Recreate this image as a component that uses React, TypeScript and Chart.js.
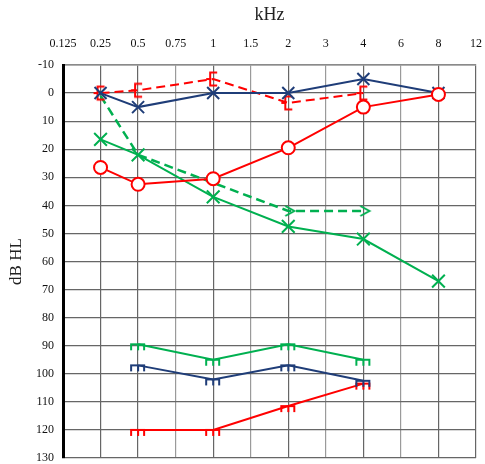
import React, { useEffect, useRef } from 'react';
import { Chart, registerables } from 'chart.js';

Chart.register(...registerables);

// ---------- data ----------
const freqLabels = ['0.125', '0.25', '0.5', '0.75', '1', '1.5', '2', '3', '4', '6', '8', '12'];
const octaveLabels = ['0.125', '0.25', '0.5', '1', '2', '4', '8', '12'];

const acFreqs = ['0.25', '0.5', '1', '2', '4', '8'];
const redCircle = [26.5, 32.5, 30.5, 19.5, 5, 0.5];
const blueCross = [0, 5, 0, 0, -5, 0];
const greenCross = [16.5, 22, 37, 47.5, 52, 67];

const bcFreqs = ['0.25', '0.5', '1', '2', '4'];
const redBracket = [0, -1, -5, 3.5, 0];

const greenDashFreqs = ['0.25', '0.5', '2', '4'];
const greenDash = [1, 22, 42, 42];

const uclFreqs = ['0.5', '1', '2', '4'];
const greenUcl = [89.5, 95, 89.5, 95];
const blueUcl = [97, 102, 97, 102.5];
const redUcl = [120, 120, 111.5, 103.5];

const RED = '#ff0000';
const BLUE = '#1f3d78';
const GREEN = '#00b050';
const FONT = '"Liberation Serif", "Times New Roman", serif';

const pts = (freqs: string[], vals: number[]) =>
  freqs.map((f, i) => ({ x: freqLabels.indexOf(f), y: vals[i] }));

function makeCanvas(w: number, h: number, draw: (c: CanvasRenderingContext2D) => void) {
  const c = document.createElement('canvas');
  c.width = w;
  c.height = h;
  const ctx = c.getContext('2d')!;
  draw(ctx);
  return c;
}

function bracket(color: string) {
  return makeCanvas(20, 20, (ctx) => {
    ctx.strokeStyle = color;
    ctx.lineWidth = 2;
    ctx.beginPath();
    ctx.moveTo(14, 3.5);
    ctx.lineTo(7, 3.5);
    ctx.lineTo(7, 16.5);
    ctx.lineTo(14, 16.5);
    ctx.moveTo(3, 10);
    ctx.lineTo(7, 10);
    ctx.stroke();
  });
}

function arrow(color: string) {
  return makeCanvas(22, 16, (ctx) => {
    ctx.strokeStyle = color;
    ctx.lineWidth = 2;
    ctx.beginPath();
    ctx.moveTo(8, 3);
    ctx.lineTo(17, 8);
    ctx.lineTo(8, 13);
    ctx.stroke();
  });
}

function ucl(color: string) {
  return makeCanvas(22, 20, (ctx) => {
    ctx.strokeStyle = color;
    ctx.lineWidth = 2;
    ctx.beginPath();
    ctx.moveTo(3, 10);
    ctx.lineTo(18, 10);
    ctx.moveTo(4, 10);
    ctx.lineTo(4, 16);
    ctx.moveTo(11, 10);
    ctx.lineTo(11, 16);
    ctx.moveTo(17, 10);
    ctx.lineTo(17, 16);
    ctx.stroke();
  });
}

export default function App() {
  const ref = useRef<HTMLCanvasElement>(null);

  useEffect(() => {
    document.body.style.margin = '0';
    const cv = ref.current!;
    const arrowG = arrow(GREEN);
    const chart = new Chart(cv, {
      type: 'line',
      data: {
        datasets: [
          {
            data: pts(acFreqs, redCircle),
            borderColor: RED,
            backgroundColor: '#ffffff',
            borderWidth: 2,
            pointStyle: 'circle',
            pointRadius: 6.5,
            pointBorderWidth: 2,
            pointBackgroundColor: '#ffffff',
            order: 0,
          },
          {
            data: pts(acFreqs, blueCross),
            borderColor: BLUE,
            borderWidth: 2,
            pointStyle: 'crossRot',
            pointRadius: 8.5,
            pointBorderWidth: 2,
            order: 1,
          },
          {
            data: pts(bcFreqs, redBracket),
            borderColor: RED,
            borderWidth: 2,
            borderDash: [9, 5],
            pointStyle: bracket(RED),
            pointRadius: 8,
            order: 2,
          },
          {
            data: pts(acFreqs, greenCross),
            borderColor: GREEN,
            borderWidth: 2,
            pointStyle: 'crossRot',
            pointRadius: 9,
            pointBorderWidth: 2,
            order: 3,
          },
          {
            data: pts(greenDashFreqs, greenDash),
            borderColor: GREEN,
            borderWidth: 2.5,
            borderDash: [9, 5],
            pointStyle: ['circle', 'circle', arrowG, arrowG] as any,
            pointRadius: [0, 0, 8, 8],
            order: 4,
          },
          {
            data: pts(uclFreqs, greenUcl),
            borderColor: GREEN,
            borderWidth: 2,
            pointStyle: ucl(GREEN),
            pointRadius: 8,
            order: 5,
          },
          {
            data: pts(uclFreqs, blueUcl),
            borderColor: BLUE,
            borderWidth: 2,
            pointStyle: ucl(BLUE),
            pointRadius: 8,
            order: 6,
          },
          {
            data: pts(uclFreqs, redUcl),
            borderColor: RED,
            borderWidth: 2,
            pointStyle: ucl(RED),
            pointRadius: 8,
            order: 7,
          },
        ] as any,
      },
      options: {
        animation: false,
        responsive: false,
        devicePixelRatio: 1,
        layout: { autoPadding: false, padding: { left: 0, right: 9, top: 0, bottom: 6 } },
        elements: { line: { tension: 0, fill: false } },
        plugins: { legend: { display: false }, tooltip: { enabled: false } },
        scales: {
          x: {
            type: 'linear',
            position: 'top',
            min: 0,
            max: 11,
            ticks: {
              stepSize: 1,
              autoSkip: false,
              maxRotation: 0,
              padding: 14,
              color: '#111',
              font: { family: FONT, size: 12 },
              callback: (v: any) => freqLabels[v as number] ?? '',
            },
            grid: {
              drawTicks: false,
              lineWidth: 1.2,
              color: (c: any) =>
                octaveLabels.includes(freqLabels[c.tick?.value]) ? '#666666' : '#9a9a9a',
            },
            border: { color: '#8a8a8a', width: 1.5 },
            title: {
              display: true,
              text: 'kHz',
              color: '#222',
              font: { family: FONT, size: 18 },
              padding: { top: 4, bottom: 0 },
            },
            afterFit: (s: any) => {
              s.height = 65;
              s.paddingLeft = 0;
              s.paddingRight = 0;
              s.paddingTop = 0;
              s.paddingBottom = 0;
            },
          },
          y: {
            type: 'linear',
            reverse: true,
            min: -10,
            max: 130,
            ticks: {
              stepSize: 10,
              padding: 9,
              color: '#111',
              font: { family: FONT, size: 12 },
            },
            grid: { drawTicks: false, lineWidth: 1.2, color: '#666666' },
            border: { color: '#000', width: 3 },
            title: {
              display: true,
              text: 'dB HL',
              color: '#222',
              font: { family: FONT, size: 17 },
              padding: { top: 6, bottom: 0 },
            },
            afterFit: (s: any) => {
              s.width = 63;
              s.paddingTop = 0;
              s.paddingBottom = 0;
              s.paddingLeft = 0;
              s.paddingRight = 0;
            },
          },
        },
      } as any,
    });
    return () => chart.destroy();
  }, []);

  return <canvas ref={ref} width={485} height={464} style={{ display: 'block' }} />;
}
